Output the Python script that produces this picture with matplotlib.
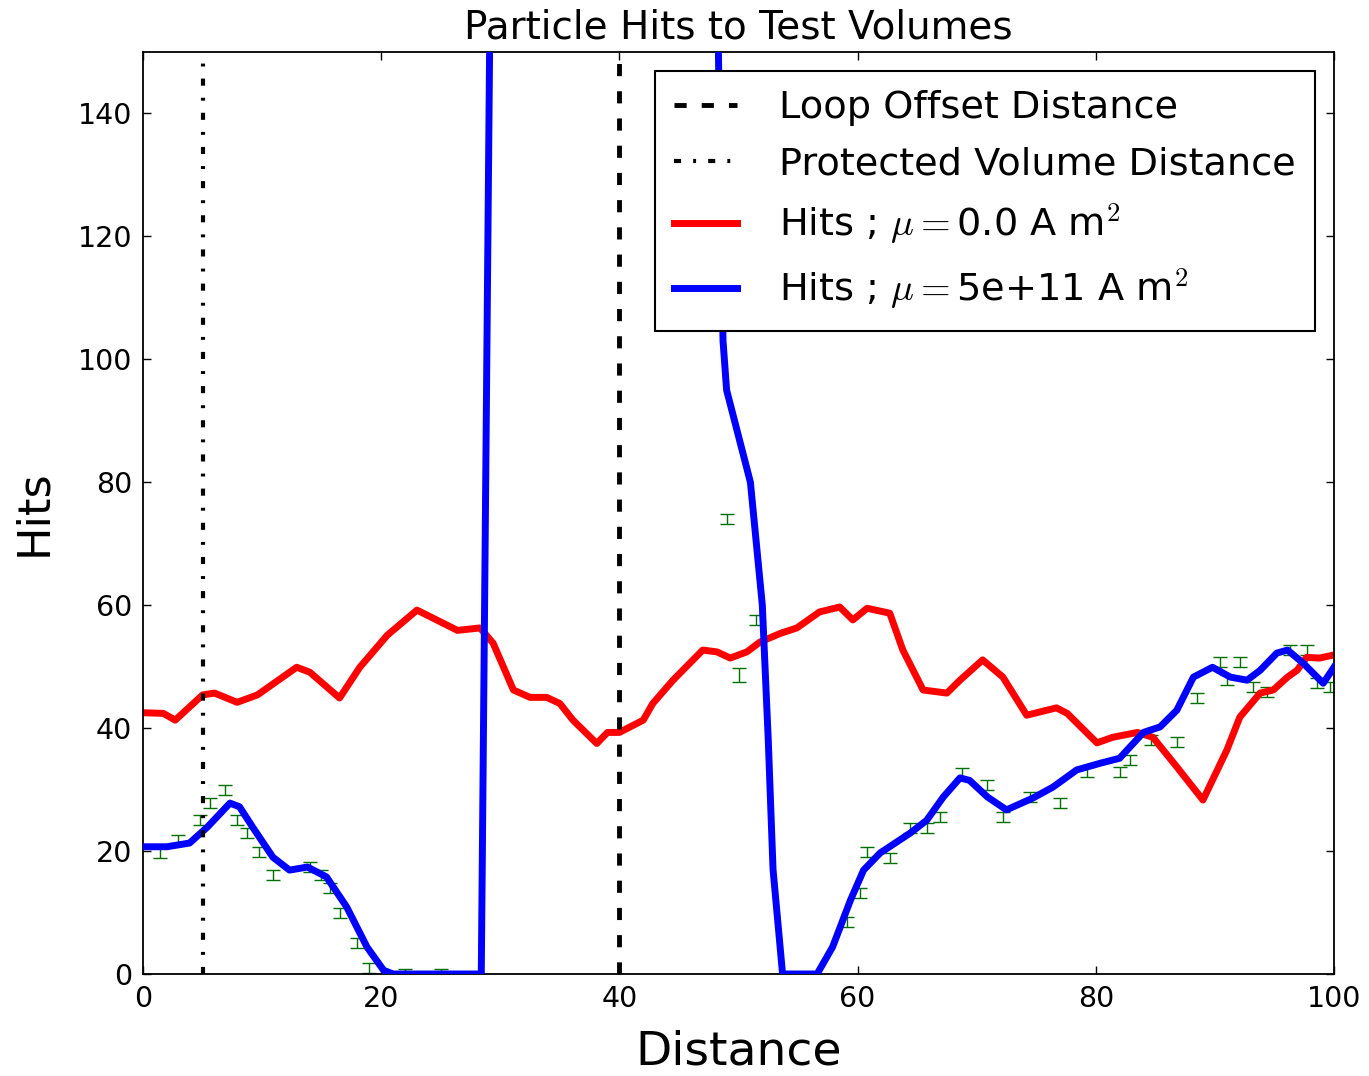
import numpy as np
import matplotlib
matplotlib.use("Agg")
import matplotlib.pyplot as plt
from matplotlib.lines import Line2D

plt.rcParams['mathtext.fontset'] = 'cm'
plt.rcParams['font.family'] = ['DejaVu Sans']

# red series: mu = 0
red_x = [0, 1.7, 2.7, 5.0, 6.0, 7.9, 9.6, 12.9, 14.0, 16.5, 18.2, 20.5, 23.0, 26.4, 28.3,
         29.4, 31.1, 32.5, 33.9, 35.0, 36.1, 38.1, 39.0, 40.0, 42.0, 42.8, 44.5, 47.0, 48.2,
         49.3, 50.7, 51.8, 53.5, 54.9, 56.8, 58.5, 59.6, 60.8, 62.7, 63.8, 65.5, 67.5, 68.6,
         70.5, 72.2, 74.2, 76.7, 77.6, 80.1, 81.4, 83.5, 84.8, 86.8, 89.0, 91.0, 92.1, 93.8,
         94.9, 96.1, 96.9, 97.7, 98.8, 100]
red_y = [42.5, 42.4, 41.3, 45.4, 45.7, 44.2, 45.4, 49.9, 49.1, 44.9, 49.9, 55.1, 59.2, 55.9, 56.3,
         53.8, 46.2, 45.0, 45.0, 44.0, 41.3, 37.5, 39.3, 39.3, 41.3, 44.0, 47.8, 52.7, 52.4,
         51.4, 52.4, 54.0, 55.4, 56.3, 58.9, 59.7, 57.6, 59.5, 58.7, 52.7, 46.2, 45.7, 47.8,
         51.1, 48.3, 42.1, 43.3, 42.4, 37.6, 38.5, 39.3, 38.5, 33.7, 28.3, 36.4, 41.8, 45.7,
         46.2, 48.3, 49.4, 51.5, 51.4, 51.9]

# blue series: mu = 5e+11
blue_x = [0, 2.0, 3.9, 5.4, 7.3, 8.1, 9.2, 10.9, 12.3, 13.8, 15.4, 17.1, 18.8, 20.2, 21.0,
          28.4, 29.4, 35.0, 42.0, 47.9, 48.7, 49.0, 51.0, 52.0, 52.5, 52.9, 53.7, 56.6,
          57.9, 59.4, 60.5, 61.9, 64.4, 65.8, 67.2, 68.6, 69.4, 70.9, 72.5, 74.7, 76.4, 78.4,
          80.4, 82.0, 84.0, 85.4, 86.8, 88.2, 89.8, 91.3, 92.7, 93.8, 95.2, 96.1, 97.4, 99.1, 100]
blue_y = [20.7, 20.7, 21.3, 23.9, 27.8, 27.2, 23.9, 19.0, 16.9, 17.4, 15.8, 10.9, 4.4, 0.6, 0,
          0, 215, 400, 400, 200, 103, 95, 80, 60, 38, 17, 0, 0,
          4.4, 12.0, 16.9, 19.7, 22.9, 25.0, 28.8, 31.9, 31.5, 28.8, 26.7, 28.6, 30.4, 33.2,
          34.3, 35.1, 39.3, 40.2, 42.9, 48.3, 49.9, 48.3, 47.8, 49.4, 52.2, 52.7, 50.6, 47.3, 49.9]

# green error bars
green_x = [1.4, 2.9, 4.8, 5.6, 6.9, 7.9, 8.7, 9.7, 10.9, 14.0, 14.9, 15.7, 16.5, 18.0, 19.0,
           22.0, 25.0, 49.0, 50.0, 51.5, 59.1, 60.2, 60.8, 62.7, 64.4, 65.8, 66.9, 68.8, 70.9,
           72.2, 74.5, 77.0, 79.3, 82.0, 82.9, 84.6, 86.8, 88.5, 90.4, 91.0, 92.1, 93.2, 94.4,
           96.3, 97.7, 98.6, 99.7]
green_y = [19.7, 21.8, 25.0, 27.8, 29.9, 25.0, 22.9, 19.8, 16.1, 17.4, 16.1, 14.0, 9.9, 5.0, 1.0,
           0.0, 0.0, 74.0, 48.6, 57.6, 8.5, 13.2, 19.8, 18.9, 23.7, 23.7, 25.5, 32.7, 30.7,
           25.5, 28.8, 27.8, 32.8, 32.8, 34.8, 38.0, 37.7, 44.9, 50.7, 47.8, 50.7, 46.7, 45.9,
           52.7, 52.7, 47.3, 46.7]
green_err = [0.8] * len(green_y)
green_err[18] = 1.1

loop_offset = 40
protected_dist = 5

fig = plt.figure(figsize=(13.69, 10.76), dpi=100)
ax = fig.add_axes([0.1045, 0.0948, 0.8699, 0.8569])

ax.errorbar(green_x, green_y, yerr=green_err, fmt='none', ecolor='#007000',
            elinewidth=1.0, capsize=5, capthick=1.0, zorder=1)
ax.plot(red_x, red_y, color='r', lw=5, zorder=2)
ax.plot(blue_x, blue_y, color='b', lw=5, zorder=3)
ax.axvline(loop_offset, color='k', lw=3.5, linestyle=(0, (2.5, 3.1)), zorder=4)
ax.axvline(protected_dist, color='k', lw=3, linestyle=(0, (1.7, 2.9, 0.7, 2.9)), zorder=4)

ax.set_xlim(0, 100)
ax.set_ylim(0, 150)
ax.set_xticks(np.arange(0, 101, 20))
ax.set_yticks(np.arange(0, 141, 20))
ax.tick_params(direction='in', top=True, right=True, length=6, width=1,
               labelsize=20.5, pad=8)
for s in ax.spines.values():
    s.set_linewidth(1.3)

ax.set_title('Particle Hits to Test Volumes', fontsize=28, pad=10)
ax.set_xlabel('Distance', fontsize=34, labelpad=12)
ax.set_ylabel('Hits', fontsize=32, labelpad=16)

handles = [
    Line2D([], [], color='k', lw=3.5, linestyle=(0, (2.5, 3.1))),
    Line2D([], [], color='k', lw=3, linestyle=(0, (1.7, 2.9, 0.7, 2.9))),
    Line2D([], [], color='r', lw=5),
    Line2D([], [], color='b', lw=5),
]
labels = ['Loop Offset Distance', 'Protected Volume Distance',
          r'Hits ; $\mu=$0.0 A m$^2$', r'Hits ; $\mu=$5e+11 A m$^2$']
leg = ax.legend(handles, labels, loc='upper right', fontsize=27.5, fancybox=False,
                edgecolor='k', framealpha=1, handlelength=1.65, handletextpad=1.1,
                borderaxespad=0.5, borderpad=0.5, labelspacing=0.52)
leg.get_frame().set_linewidth(1.5)

fig.savefig('out.png', dpi=100)
